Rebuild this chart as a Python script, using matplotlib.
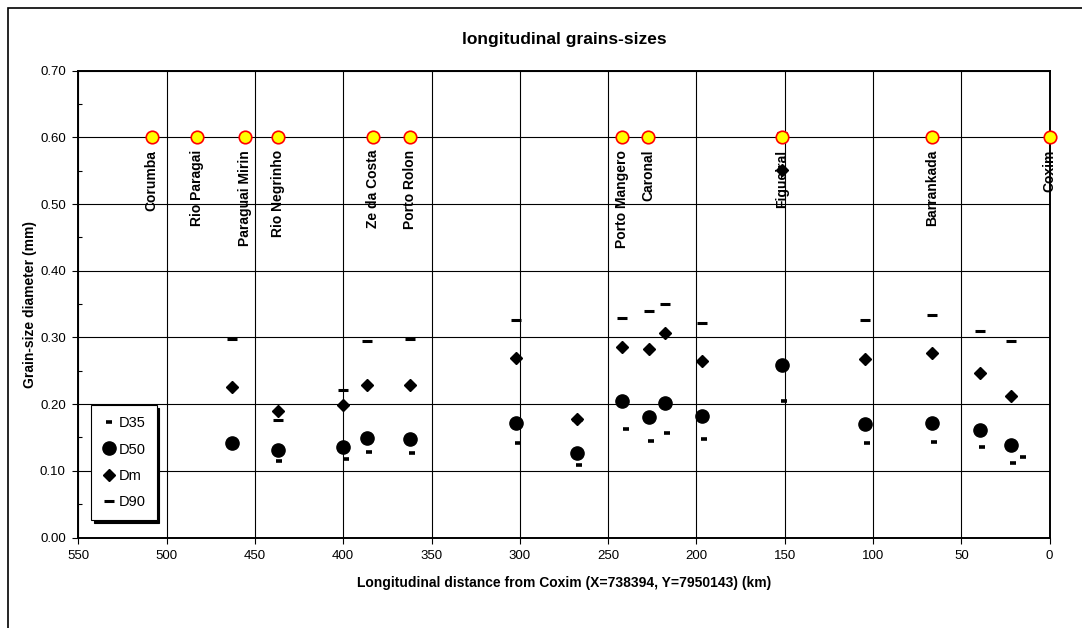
import numpy as np
import matplotlib.pyplot as plt
from matplotlib.patches import Rectangle

plt.rcParams['font.family'] = ['Liberation Sans', 'DejaVu Sans']

# Gauging stations along the river (distance from Coxim, km)
station_names = ['Corumba', 'Rio Paragai', 'Paraguai Mirin', 'Rio Negrinho',
                 'Ze da Costa', 'Porto Rolon', 'Porto Mangero', 'Caronal',
                 'Figueiral', 'Barrankada', 'Coxim']
station_km = [508.4, 483.0, 455.4, 436.7, 383.3, 362.4, 242.0, 227.4,
              151.7, 66.6, 0.0]
station_level = 0.60

# Sampling points (km) and grain sizes (mm)
sample_km = [463.0, 437.0, 400.0, 386.5, 362.4, 302.0, 267.4, 242.4,
             226.8, 217.6, 196.8, 151.7, 104.7, 66.6, 39.4, 22.0]
d50 = [0.142, 0.131, 0.136, 0.149, 0.148, 0.171, 0.126, 0.205,
       0.181, 0.202, 0.182, 0.259, 0.170, 0.172, 0.161, 0.138]
dm = [0.226, 0.190, 0.198, 0.229, 0.229, 0.269, 0.177, 0.286,
      0.283, 0.306, 0.265, 0.551, 0.268, 0.276, 0.246, 0.212]
d90 = [0.298, 0.176, 0.221, 0.295, 0.297, 0.326, 0.176, 0.329,
       0.340, 0.350, 0.321, 0.607, 0.326, 0.333, 0.310, 0.295]

d35_km = [436.2, 398.6, 385.6, 361.0, 300.8, 266.5, 240.0, 225.7,
          216.7, 195.7, 150.6, 103.6, 65.5, 38.3, 20.9, 15.1]
d35 = [0.115, 0.118, 0.128, 0.126, 0.142, 0.108, 0.162, 0.145,
       0.157, 0.147, 0.205, 0.142, 0.143, 0.135, 0.111, 0.120]

fig = plt.figure(figsize=(10.82, 6.28), dpi=100)
ax = fig.add_axes([0.0724, 0.1441, 0.8977, 0.7433])

# outer chart frame
fig.add_artist(Rectangle((8 / 1082, -0.1), 1.2, 1 - 8 / 628 + 0.1,
                         transform=fig.transFigure, fill=False,
                         edgecolor='black', lw=1.2, clip_on=False))

ax.plot(d35_km, d35, ls='none', marker='_', ms=4, mew=2.6, color='black',
        label='D35', zorder=5)
ax.plot(sample_km, d50, ls='none', marker='o', ms=9.5, color='black',
        label='D50', zorder=5)
ax.plot(sample_km, dm, ls='none', marker='D', ms=6.2, color='black',
        label='Dm', zorder=5)
ax.plot(sample_km, d90, ls='none', marker='_', ms=6.5, mew=2.2, color='black',
        label='D90', zorder=3)

ax.plot(station_km, [station_level] * len(station_km), ls='none', marker='o',
        ms=9, mfc='#ffff00', mec='red', mew=1.2, zorder=4, clip_on=False)
for name, km in zip(station_names, station_km):
    ax.annotate(name, (km, station_level), xytext=(0, -9),
                textcoords='offset points', rotation=90, ha='center', va='top',
                fontsize=10, fontweight='bold', zorder=2.5)

ax.set_xlim(550, 0)
ax.set_ylim(0, 0.70)
ax.set_xticks(np.arange(550, -1, -50))
ax.set_yticks(np.arange(0, 0.71, 0.1))
ax.set_yticks(np.arange(0.05, 0.7, 0.1), minor=True)
ax.yaxis.set_major_formatter(plt.FormatStrFormatter('%.2f'))
ax.tick_params(axis='both', which='major', labelsize=9.5, direction='out',
               length=4, width=0.8, pad=5)
ax.tick_params(axis='y', which='minor', direction='in', length=3, width=0.8)
ax.grid(True, color='black', lw=0.8)
ax.set_axisbelow(True)
for sp in ax.spines.values():
    sp.set_linewidth(1.4)

ax.set_title('longitudinal grains-sizes', fontsize=12.5, fontweight='bold', pad=19)
ax.set_xlabel('Longitudinal distance from Coxim (X=738394, Y=7950143) (km)',
              fontsize=10, fontweight='bold', labelpad=10)
ax.set_ylabel('Grain-size diameter (mm)', fontsize=10, fontweight='bold',
              labelpad=2)

leg = ax.legend(loc='lower left', bbox_to_anchor=(0.013, 0.037), fontsize=10.5,
                frameon=True, fancybox=False, edgecolor='black',
                handlelength=1.0, handletextpad=0.15, labelspacing=0.85,
                borderpad=0.75, borderaxespad=0,
                shadow={'color': 'black', 'alpha': 1})
leg.get_frame().set_linewidth(0.8)
leg.set_zorder(6)

fig.savefig('out.png', dpi=100)
